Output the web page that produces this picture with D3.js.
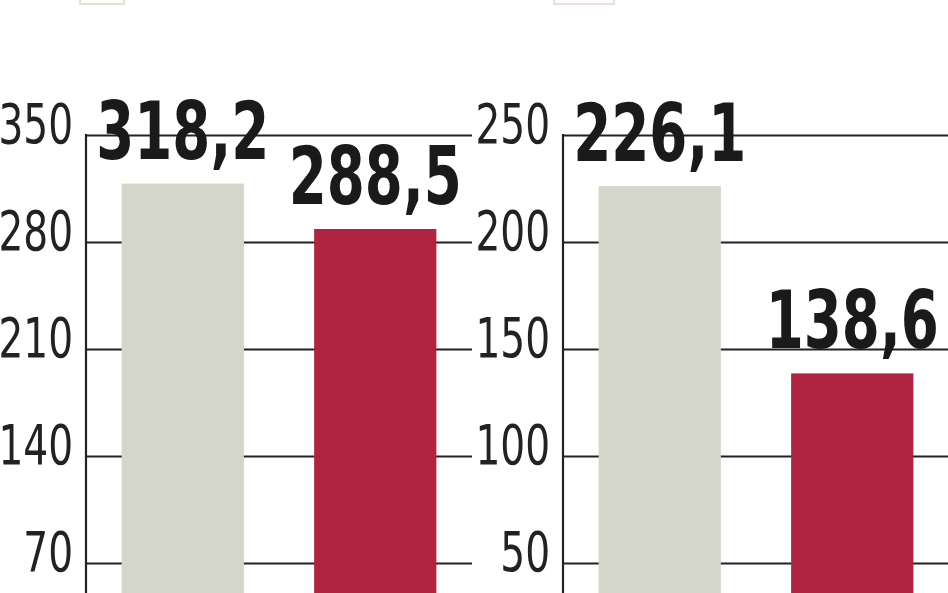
<!DOCTYPE html>
<html>
<head>
<meta charset="utf-8">
<script src="https://cdn.jsdelivr.net/npm/d3@7"></script>
<style>
  html, body { margin: 0; padding: 0; background: #fff; }
  svg { display: block; }
  text { font-family: 'Liberation Sans Narrow', 'DejaVu Sans Condensed', 'DejaVu Sans', sans-serif; }
</style>
</head>
<body>
<div id="chart"></div>
<script>
// two panels, same two periods, different measures
var categories = ["okres 1", "okres 2"];
var leftValues = [318.2, 288.5];
var rightValues = [226.1, 138.6];
var leftTicks = [70, 140, 210, 280, 350];
var rightTicks = [50, 100, 150, 200, 250];
var barColors = ["#d4d6ca", "#b02441"];

var W = 948, H = 593;
var panelW = 386, topY = 135, zeroY = 670;
var tickSqueeze = 0.79, valSqueeze = 0.76;   // condensed look

var svg = d3.select("#chart")
  .append("svg")
    .attr("width", W)
    .attr("height", H)
    .attr("viewBox", `0 0 ${W} ${H}`);

// faint legend swatches cut off at the top edge
svg.append("rect").attr("x", 80).attr("y", -8).attr("width", 44).attr("height", 12)
  .attr("fill", "none").attr("stroke", "#e6e1c8").attr("stroke-width", 2);
svg.append("rect").attr("x", 554).attr("y", -8).attr("width", 60).attr("height", 12)
  .attr("fill", "none").attr("stroke", "#f3dcdc").attr("stroke-width", 2);

var pl = d3.formatLocale({decimal: ",", thousands: " ", grouping: [3], currency: ["", ""]});
var fmt = pl.format(".1f");

function drawPanel(left, values, ticks) {
  var g = svg.append("g").attr("transform", `translate(${left},0)`);

  var x = d3.scaleBand()
    .domain(categories)
    .range([0, panelW])
    .paddingInner(0.365)
    .paddingOuter(0.185);

  var y = d3.scaleLinear()
    .domain([0, d3.max(ticks)])
    .range([zeroY, topY]);

  // gridlines + tick labels
  var ax = g.append("g")
    .call(d3.axisLeft(y).tickValues(ticks).tickSize(-panelW).tickPadding(12).tickFormat(d3.format("d")));
  ax.select(".domain").remove();
  ax.selectAll(".tick line")
    .attr("stroke", "#222")
    .attr("stroke-width", 2.2);
  ax.selectAll(".tick text")
    .attr("x", -13 / tickSqueeze)
    .attr("dy", 7)
    .attr("transform", `scale(${tickSqueeze},1)`)
    .attr("fill", "#222")
    .style("font-size", "55px");

  // vertical axis
  g.append("line")
    .attr("x1", 0).attr("x2", 0)
    .attr("y1", y(d3.max(ticks)) - 1).attr("y2", H + 10)
    .attr("stroke", "#222")
    .attr("stroke-width", 2.2);

  g.selectAll(".bar")
    .data(values)
    .join("rect")
      .attr("class", "bar")
      .attr("x", (d, i) => x(categories[i]))
      .attr("y", d => y(d))
      .attr("width", x.bandwidth())
      .attr("height", d => y(0) - y(d))
      .attr("fill", (d, i) => barColors[i]);

  g.selectAll(".val")
    .data(values)
    .join("text")
      .attr("class", "val")
      .attr("transform", (d, i) =>
        `translate(${x(categories[i]) + x.bandwidth() / 2},${y(d) - 25}) scale(${valSqueeze},1)`)
      .attr("text-anchor", "middle")
      .attr("fill", "#1a1a1a")
      .style("font-weight", "bold")
      .style("font-size", "80px")
      .text(d => fmt(d));
}

drawPanel(86, leftValues, leftTicks);
drawPanel(563, rightValues, rightTicks);
</script>
</body>
</html>
